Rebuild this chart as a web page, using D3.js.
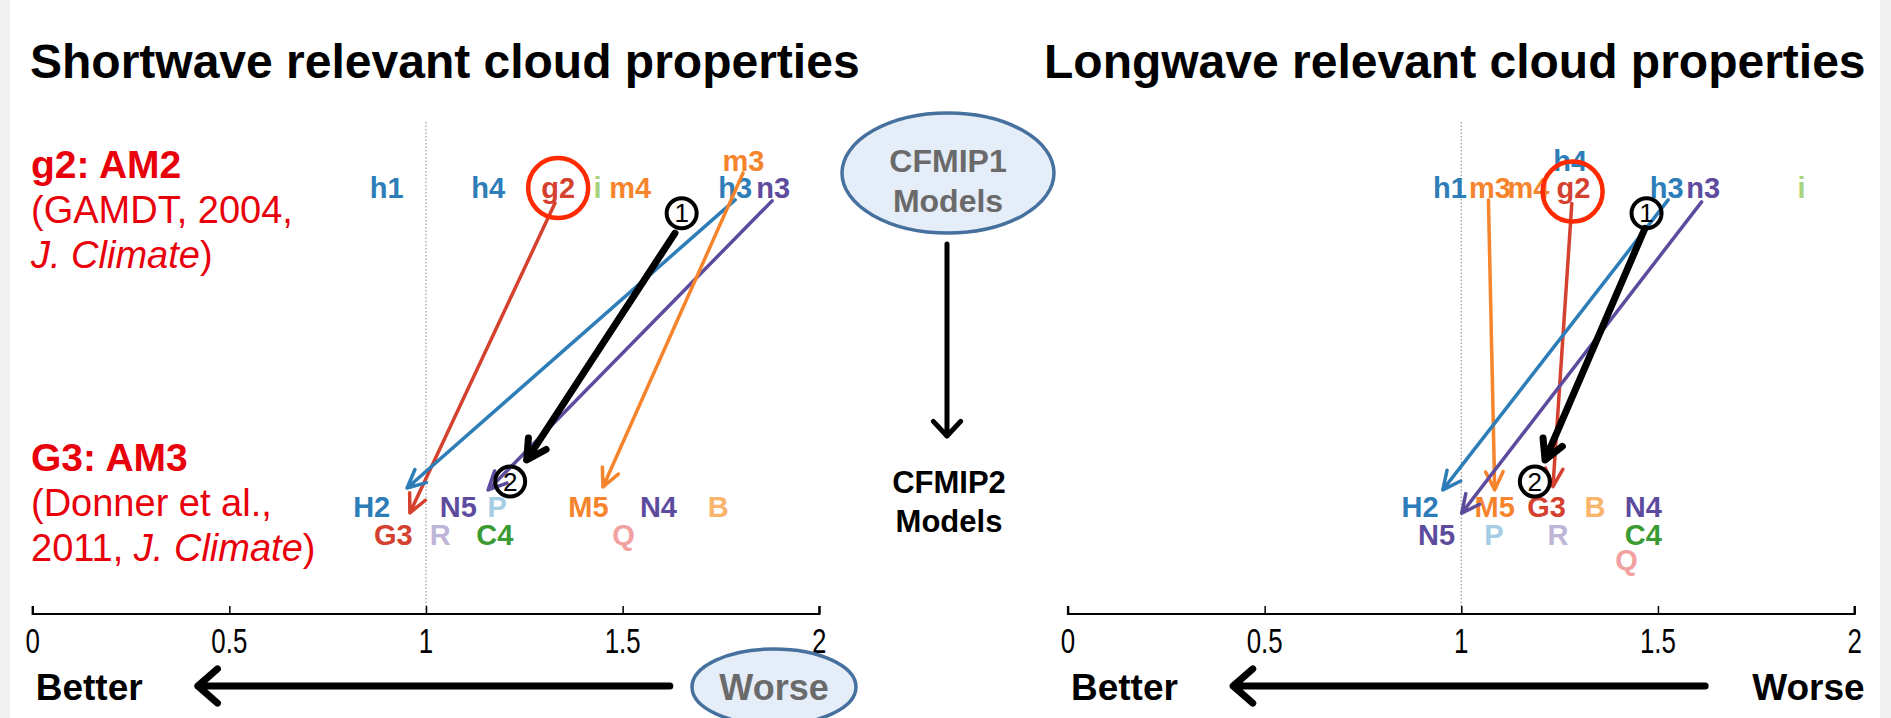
<!DOCTYPE html>
<html><head><meta charset="utf-8">
<title>CFMIP1 to CFMIP2 cloud property scores</title>
<script src="https://d3js.org/d3.v7.min.js"></script>
<style>
  body, html {
    margin: 0;
    padding: 0;
    background: #fff;
    font-family: 'Liberation Sans', Arial, sans-serif;
  }
  svg { display: block; }
  .label { font-weight: bold; font-size: 29px; text-anchor: middle; }
  .tick-label { font-size: 35px; text-anchor: middle; }
  .title { font-weight: bold; font-size: 48px; }
</style>
</head>
<body>
<div id="chart"></div>
<script>
const W = 1891, H = 718;
const xTicks = [0, 0.5, 1, 1.5, 2];

// Shortwave panel: model labels (value on the 0-2 score axis, row)
const swNames  = ["h1", "h4", "g2", "i", "m4", "h3", "n3", "m3",
                  "H2", "G3", "R", "N5", "P", "C4", "M5", "Q", "N4", "B"];
const swValues = [0.90, 1.158, 1.336, 1.436, 1.519, 1.786, 1.883, 1.807,
                  0.862, 0.917, 1.036, 1.082, 1.181, 1.175, 1.413, 1.502, 1.591, 1.743];
const swRows   = ["top", "top", "top", "top", "top", "top", "top", "up",
                  "b1", "b2", "b2", "b1", "b1", "b2", "b1", "b2", "b1", "b1"];
// arrows CFMIP1 -> CFMIP2, [score, level]
const swArrowKeys = ["G", "H", "N", "M", "K"];
const swArrowFrom = [[1.328, 0.016], [1.786, 0.006], [1.880, 0.009], [1.806, -0.078], [1.633, 0.110]];
const swArrowTo   = [[0.959, 0.987], [0.952, 0.909], [1.158, 0.915], [1.450, 0.906], [1.256, 0.821]];
const swSteps = [[1.650, 0.048], [1.214, 0.889]];
const swHighlight = [1.336, -0.031];

// Longwave panel
const lwNames  = ["h1", "m3", "m4", "g2", "h4", "h3", "n3", "i",
                  "H2", "N5", "M5", "P", "G3", "R", "B", "N4", "C4", "Q"];
const lwValues = [0.971, 1.073, 1.171, 1.285, 1.277, 1.522, 1.615, 1.865,
                  0.895, 0.937, 1.085, 1.083, 1.217, 1.246, 1.340, 1.463, 1.463, 1.42];
const lwRows   = ["top", "top", "top", "top", "up", "top", "top", "top",
                  "b1", "b2", "b1", "b2", "b1", "b2", "b1", "b1", "b2", "b3"];
const lwArrowKeys = ["M", "G", "H", "N", "K"];
const lwArrowFrom = [[1.069, 0.006], [1.281, 0.017], [1.526, 0.006], [1.611, 0.012], [1.467, 0.095]];
const lwArrowTo   = [[1.085, 0.915], [1.233, 0.905], [0.953, 0.915], [1.001, 0.988], [1.213, 0.821]];
const lwSteps = [[1.471, 0.048], [1.187, 0.889]];
const lwHighlight = [1.283, -0.020];

const colors = {
  H: "#2d7db8", G: "#d5412f", M: "#f5842c", N: "#5d4b9e", I: "#a7d47c",
  B: "#f9b56b", P: "#a5cde4", R: "#bfb5d8", C: "#3b9b33", Q: "#f2a1a0", K: "#000"
};
const rowLevel = d3.scaleOrdinal()
  .domain(["up", "top", "b1", "b2", "b3"])
  .range([-0.085, 0, 1, 1.089, 1.166]);

const svg = d3.select("#chart").append("svg")
  .attr("width", W).attr("height", H);

svg.append("rect").attr("width", W).attr("height", H).attr("fill", "#fff");
svg.append("rect").attr("x", 0).attr("width", 10).attr("height", H).attr("fill", "#f1f1f1");
svg.append("rect").attr("x", W - 11).attr("width", 11).attr("height", H).attr("fill", "#f1f1f1");

const y = d3.scaleLinear().domain([0, 1]).range([198, 517]);
const axisY = 614;

function arrow(g, x1, y1, x2, y2, color, width, head, spread) {
  const a = Math.atan2(y2 - y1, x2 - x1);
  const w1 = [x2 - head * Math.cos(a - spread), y2 - head * Math.sin(a - spread)];
  const w2 = [x2 - head * Math.cos(a + spread), y2 - head * Math.sin(a + spread)];
  g.append("path")
    .attr("d", `M${x1},${y1}L${x2},${y2}M${w1[0]},${w1[1]}L${x2},${y2}L${w2[0]},${w2[1]}`)
    .attr("fill", "none").attr("stroke", color).attr("stroke-width", width)
    .attr("stroke-linecap", "round").attr("stroke-linejoin", "round");
}

function panel(cfg) {
  const x = d3.scaleLinear().domain([0, 2]).range(cfg.range);
  const g = svg.append("g");

  g.append("text").attr("class", "title")
    .attr("x", cfg.titleX).attr("y", 78).text(cfg.title);

  // reference line at 1
  g.append("line")
    .attr("x1", x(1)).attr("x2", x(1)).attr("y1", 122).attr("y2", axisY)
    .attr("stroke", "#9a9a9a").attr("stroke-width", 1.2).attr("stroke-dasharray", "1.5,2");

  // axis
  const axis = d3.axisTop(x).tickValues(xTicks).tickSize(8).tickFormat(d3.format("~g"));
  const ax = g.append("g").attr("transform", `translate(0,${axisY})`).call(axis);
  ax.select(".domain").attr("stroke", "#000").attr("stroke-width", 2.2)
    .attr("d", `M${x(0)},-8V0H${x(2)}V-8`);
  ax.selectAll(".tick line").attr("stroke", "#000").attr("stroke-width", 1.5);
  ax.selectAll(".tick text").remove();
  g.selectAll(".tick-label").data(xTicks).join("text")
    .attr("class", "tick-label")
    .attr("transform", d => `translate(${x(d)},653) scale(0.74,1)`)
    .text(d => d3.format("~g")(d));

  // labels
  g.selectAll(".label").data(cfg.names).join("text")
    .attr("class", "label")
    .attr("x", (d, i) => x(cfg.values[i]))
    .attr("y", (d, i) => y(rowLevel(cfg.rows[i])))
    .attr("fill", d => colors[d[0].toUpperCase()])
    .text(d => d);

  // arrows
  cfg.arrowKeys.forEach((k, i) => {
    const f = cfg.from[i], t = cfg.to[i];
    if (k === "K") {
      arrow(g, x(f[0]), y(f[1]), x(t[0]), y(t[1]), "#000", 7, 22, 0.5);
    } else {
      arrow(g, x(f[0]), y(f[1]), x(t[0]), y(t[1]), colors[k], 3.5, 20, 0.45);
    }
  });

  // step markers
  cfg.steps.forEach((s, i) => {
    g.append("circle").attr("cx", x(s[0])).attr("cy", y(s[1])).attr("r", 15)
      .attr("fill", "none").attr("stroke", "#000").attr("stroke-width", 4);
    g.append("text").attr("x", x(s[0])).attr("y", y(s[1]) + 9)
      .attr("text-anchor", "middle").attr("font-size", 26).attr("fill", "#000")
      .text(i + 1);
  });

  g.append("circle").attr("cx", x(cfg.highlight[0])).attr("cy", y(cfg.highlight[1])).attr("r", 30)
    .attr("fill", "none").attr("stroke", "#ff2a00").attr("stroke-width", 4.5);

  // better / worse
  g.append("text").attr("x", cfg.range[0] + 3).attr("y", 700)
    .attr("font-weight", "bold").attr("font-size", 37).text("Better");
  arrow(g, x(1.62), 686, x(0.42), 686, "#000", 7, 26, 0.72);
  if (cfg.worseBubble) {
    g.append("ellipse").attr("cx", 774).attr("cy", 687).attr("rx", 82).attr("ry", 38)
      .attr("fill", "#e5eef8").attr("stroke", "#46709e").attr("stroke-width", 3.5);
    g.append("text").attr("x", 774).attr("y", 700).attr("text-anchor", "middle")
      .attr("font-weight", "bold").attr("font-size", 36).attr("fill", "#6a6a6a").text("Worse");
  } else {
    g.append("text").attr("x", cfg.range[1] + 10).attr("y", 700).attr("text-anchor", "end")
      .attr("font-weight", "bold").attr("font-size", 37).text("Worse");
  }
}

panel({
  title: "Shortwave relevant cloud properties", titleX: 30, range: [32.7, 819.3],
  names: swNames, values: swValues, rows: swRows,
  arrowKeys: swArrowKeys, from: swArrowFrom, to: swArrowTo,
  steps: swSteps, highlight: swHighlight, worseBubble: true
});
panel({
  title: "Longwave relevant cloud properties", titleX: 1044, range: [1068, 1854.6],
  names: lwNames, values: lwValues, rows: lwRows,
  arrowKeys: lwArrowKeys, from: lwArrowFrom, to: lwArrowTo,
  steps: lwSteps, highlight: lwHighlight, worseBubble: false
});

// model annotations (left)
const red = "#e8000b";
function note(yBase, bold, line2, line3a, line3b, line3c) {
  const t = svg.append("g").attr("fill", red);
  t.append("text").attr("x", 31).attr("y", yBase).attr("font-weight", "bold")
    .attr("font-size", 39).text(bold);
  t.append("text").attr("x", 31).attr("y", yBase + 45).attr("font-size", 38).text(line2);
  const l3 = t.append("text").attr("x", 31).attr("y", yBase + 90).attr("font-size", 38);
  l3.append("tspan").text(line3a);
  l3.append("tspan").attr("font-style", "italic").text(line3b);
  l3.append("tspan").text(line3c);
}
note(178, "g2: AM2", "(GAMDT, 2004,", "", "J. Climate", ")");
note(471, "G3: AM3", "(Donner et al.,", "2011, ", "J. Climate", ")");

// centre: CFMIP1 -> CFMIP2
const mid = svg.append("g");
mid.append("ellipse").attr("cx", 948).attr("cy", 173).attr("rx", 106).attr("ry", 60)
  .attr("fill", "#e5eef8").attr("stroke", "#46709e").attr("stroke-width", 3.5);
mid.append("text").attr("x", 948).attr("y", 172).attr("text-anchor", "middle")
  .attr("font-weight", "bold").attr("font-size", 32).attr("fill", "#6a6a6a").text("CFMIP1");
mid.append("text").attr("x", 948).attr("y", 212).attr("text-anchor", "middle")
  .attr("font-weight", "bold").attr("font-size", 32).attr("fill", "#6a6a6a").text("Models");
arrow(mid, 947, 244, 947, 436, "#000", 5, 20, 0.75);
mid.append("text").attr("x", 949).attr("y", 493).attr("text-anchor", "middle")
  .attr("font-weight", "bold").attr("font-size", 31).text("CFMIP2");
mid.append("text").attr("x", 949).attr("y", 532).attr("text-anchor", "middle")
  .attr("font-weight", "bold").attr("font-size", 31).text("Models");
</script>
</body></html>
